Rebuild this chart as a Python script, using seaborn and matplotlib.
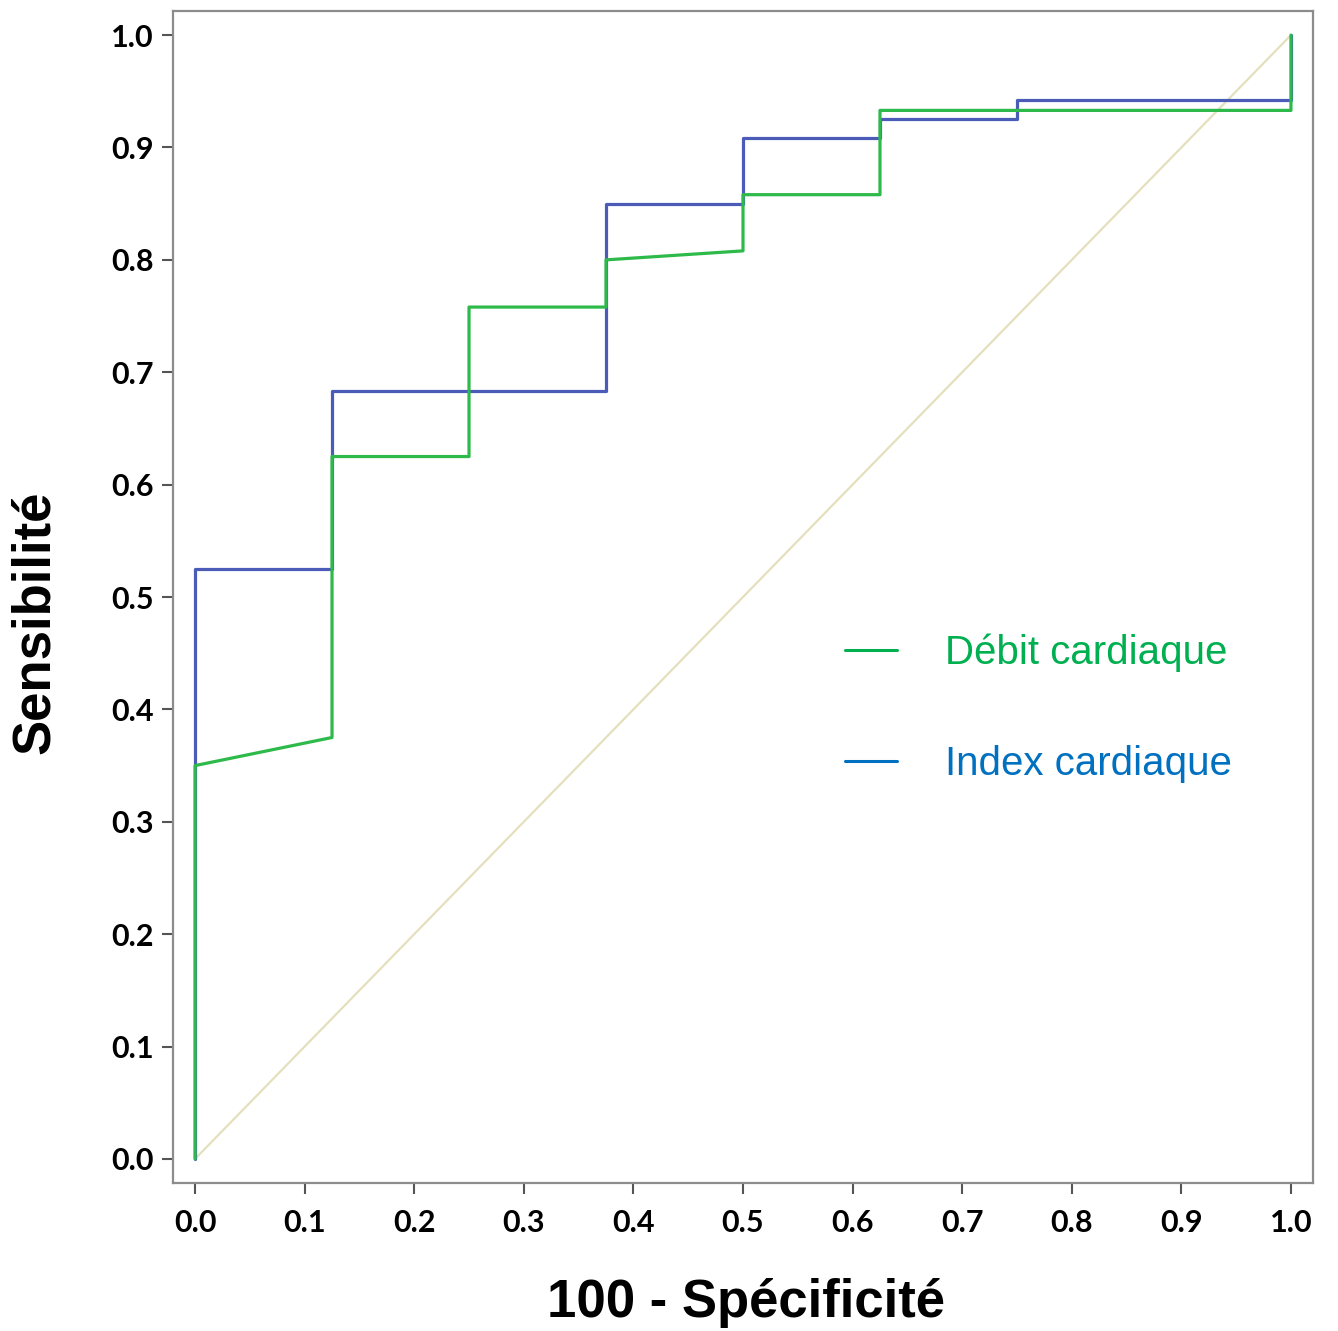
import pandas as pd
import matplotlib.pyplot as plt
import seaborn as sns
from matplotlib.lines import Line2D

sns.set_theme(style="ticks")
plt.rcParams['font.family'] = ['Lato', 'DejaVu Sans']
plt.rcParams['text.color'] = 'black'
plt.rcParams['axes.labelcolor'] = 'black'
plt.rcParams['xtick.labelcolor'] = 'black'
plt.rcParams['ytick.labelcolor'] = 'black'

# ROC points
index_fpr = [0.0, 0.0, 0.125, 0.125, 0.375, 0.375, 0.5, 0.5, 0.625, 0.625, 0.75, 0.75, 1.0, 1.0]
index_tpr = [0.0, 0.525, 0.525, 0.683, 0.683, 0.85, 0.85, 0.908, 0.908, 0.925, 0.925, 0.942, 0.942, 1.0]

debit_fpr = [0.0, 0.0, 0.125, 0.125, 0.25, 0.25, 0.375, 0.375, 0.5, 0.5, 0.625, 0.625, 1.0, 1.0]
debit_tpr = [0.0, 0.35, 0.375, 0.625, 0.625, 0.758, 0.758, 0.80, 0.808, 0.858, 0.858, 0.933, 0.933, 1.0]

diag = [0.0, 1.0]
ticks = [0.0, 0.1, 0.2, 0.3, 0.4, 0.5, 0.6, 0.7, 0.8, 0.9, 1.0]

df = pd.concat([
    pd.DataFrame({'fpr': index_fpr, 'tpr': index_tpr, 'test': 'Index cardiaque'}),
    pd.DataFrame({'fpr': debit_fpr, 'tpr': debit_tpr, 'test': 'Débit cardiaque'}),
])

fig = plt.figure(figsize=(13.38, 13.31), dpi=100)
ax = fig.add_axes([0.1293, 0.1112, 0.852, 0.8805])

ax.plot(diag, diag, color='#e4e0bd', lw=1.6, zorder=1)
sns.lineplot(data=df, x='fpr', y='tpr', hue='test', sort=False, estimator=None,
             palette={'Index cardiaque': '#4a5cb8', 'Débit cardiaque': '#2dba4a'},
             linewidth=2.3, ax=ax, legend=False)

ax.set_xlim(-0.0201, 1.0201)
ax.set_ylim(-0.0214, 1.0214)
ax.set_xticks(ticks)
ax.set_yticks(ticks)
ax.set_xticklabels([f'{t:.1f}' for t in ticks], fontweight='bold', fontsize=22)
ax.set_yticklabels([f'{t:.1f}' for t in ticks], fontweight='bold', fontsize=22)
ax.tick_params(direction='out', length=8, width=1.5, color='#555555')
ax.tick_params(axis='x', pad=11)
ax.tick_params(axis='y', pad=6)

for s in ax.spines.values():
    s.set_color('#8c8c8c')
    s.set_linewidth(1.6)

ax.set_xlabel('100 - Spécificité', fontsize=38, fontweight='bold',
              family=['Liberation Sans', 'DejaVu Sans'])
ax.set_ylabel('Sensibilité', fontsize=38, fontweight='bold',
              family=['Liberation Sans', 'DejaVu Sans'])
ax.xaxis.set_label_coords(0.503, -0.081)
ax.yaxis.set_label_coords(-0.099, 0.478)

handles = [Line2D([], [], color='#00b050', lw=2.2), Line2D([], [], color='#0070c0', lw=2.2)]
leg = ax.legend(handles, ['Débit cardiaque', 'Index cardiaque'], frameon=False,
                loc='center left', bbox_to_anchor=(0.5576, 0.405),
                handlelength=1.3, handletextpad=1.19, labelspacing=1.83,
                prop={'family': 'Liberation Sans', 'size': 29})
for txt, c in zip(leg.get_texts(), ['#00b050', '#0070c0']):
    txt.set_color(c)

fig.savefig('out.png', dpi=100)
